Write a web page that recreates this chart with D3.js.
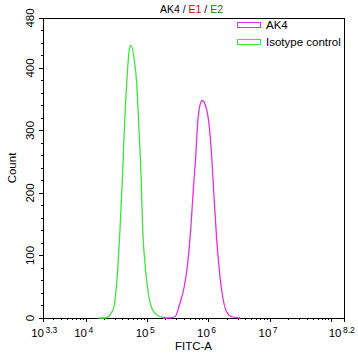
<!DOCTYPE html>
<html><head><meta charset="utf-8">
<script src="https://cdn.jsdelivr.net/npm/d3@7"></script>
<style>body{margin:0;background:#fff}svg{display:block;font-family:"Liberation Sans",Arial,sans-serif}</style>
</head><body><svg id="c" width="358" height="361"></svg>
<script>
// exponents (log10 of FITC-A) and counts
const isoExp   = [4.20,4.31,4.44,4.50,4.553,4.597,4.624,4.663,4.705,4.733,4.786,4.825,4.863,4.895,4.923,4.96,5.014,5.07,5.151,5.232,5.32];
const isoCount = [0,   0,   13,  56,  141,  232,  301,  376,  429,  436,  413,  376,  301,  232,  141,  88,  40,   16,  5,    1.5,  0];
const akExp    = [5.25,5.335,5.449,5.53,5.595,5.649,5.704,5.747,5.786,5.818,5.856,5.893,5.965,6.007,6.046,6.084,6.128,6.17,6.225,6.29,6.372,6.507];
const akCount  = [0,   0,    2,    24,  48,   82,   141,  205,  258,  312,  341,  348,  333,  306,  258,  194,  125,  77,  34,   10,  2,    0];
const yMajor = [0,100,200,300,400,480];
const xLabelExp = ["3.3","4","5","6","7","8.2"];
const seriesNames = ["AK4","Isotype control"];
const colors = {ak:"#e62ee6", iso:"#3ce63c"};

const svg = d3.select("#c");
const L=43,R=344,T=18,B=318;
const x = d3.scaleLog().domain([Math.pow(10,3.3),Math.pow(10,8.2)]).range([L,R]);
const y = d3.scaleLinear().domain([0,480]).range([B,T]);

// frame
svg.append("rect").attr("x",L).attr("y",T).attr("width",R-L).attr("height",B-T)
  .attr("fill","none").attr("stroke","#000").attr("stroke-width",1).attr("shape-rendering","crispEdges");

// y ticks
const yMinor = d3.range(0,481,20);
const gy = svg.append("g").attr("shape-rendering","crispEdges");
yMinor.forEach(v=>{
  const maj = yMajor.includes(v);
  gy.append("line").attr("x1",L).attr("x2",L-(maj?4:2)).attr("y1",y(v)).attr("y2",y(v)).attr("stroke","#000");
});
yMajor.forEach(v=>{
  svg.append("text").attr("transform",`translate(34,${y(v)}) rotate(-90)`).attr("text-anchor","middle")
    .attr("font-size",11.5).attr("fill","#000").text(v);
});

// x ticks
const gx = svg.append("g").attr("shape-rendering","crispEdges");
const [d0,d1] = x.domain();
for(let d=3; d<=8; d++){
  for(let k=1;k<=9;k++){
    const v = k*Math.pow(10,d);
    if(v<d0*0.999||v>d1*1.001) continue;
    gx.append("line").attr("x1",x(v)).attr("x2",x(v)).attr("y1",B).attr("y2",B+(k===1?4:2)).attr("stroke","#000");
  }
}
[Math.pow(10,3.3),Math.pow(10,8.2)].forEach(v=>{
  gx.append("line").attr("x1",x(v)).attr("x2",x(v)).attr("y1",B).attr("y2",B+4).attr("stroke","#000");
});
xLabelExp.forEach((e,i)=>{
  const px = x(Math.pow(10,+e)) - (i===xLabelExp.length-1?3.5:0);
  svg.append("text").attr("x",px+1).attr("y",337).attr("text-anchor","end").attr("font-size",11.5).text("10");
  svg.append("text").attr("x",px+2.5).attr("y",332.5).attr("text-anchor","start").attr("font-size",8.5).text(e);
});

// axis titles
svg.append("text").attr("x",(L+R)/2).attr("y",350).attr("text-anchor","middle").attr("font-size",11.5).text("FITC-A");
svg.append("text").attr("transform",`translate(15.5,168) rotate(-90)`).attr("text-anchor","middle").attr("font-size",11.5).text("Count");

// title
const t = svg.append("text").attr("x",191.5).attr("y",13).attr("text-anchor","middle").attr("font-size",10.5);
t.append("tspan").attr("fill","#000").text("AK4 / ");
t.append("tspan").attr("fill","#e00000").text("E1");
t.append("tspan").attr("fill","#000").text(" / ");
t.append("tspan").attr("fill","#008a00").text("E2");

// curves
const line = d3.line().x(d=>x(Math.pow(10,d[0]))).y(d=>y(d[1])).curve(d3.curveMonotoneX);
svg.append("path").datum(isoExp.map((e,i)=>[e,isoCount[i]])).attr("d",line)
  .attr("fill","none").attr("stroke",colors.iso).attr("stroke-width",1.3);
svg.append("path").datum(akExp.map((e,i)=>[e,akCount[i]])).attr("d",line)
  .attr("fill","none").attr("stroke",colors.ak).attr("stroke-width",1.3);

// legend
[[seriesNames[0],colors.ak,25],[seriesNames[1],colors.iso,42]].forEach(([n,c,cy])=>{
  svg.append("rect").attr("x",237.5).attr("y",cy-2.5).attr("width",23).attr("height",5)
    .attr("fill","none").attr("stroke",c).attr("stroke-width",1);
  svg.append("text").attr("x",266).attr("y",cy+4).attr("font-size",11.5).text(n);
});
</script></body></html>
